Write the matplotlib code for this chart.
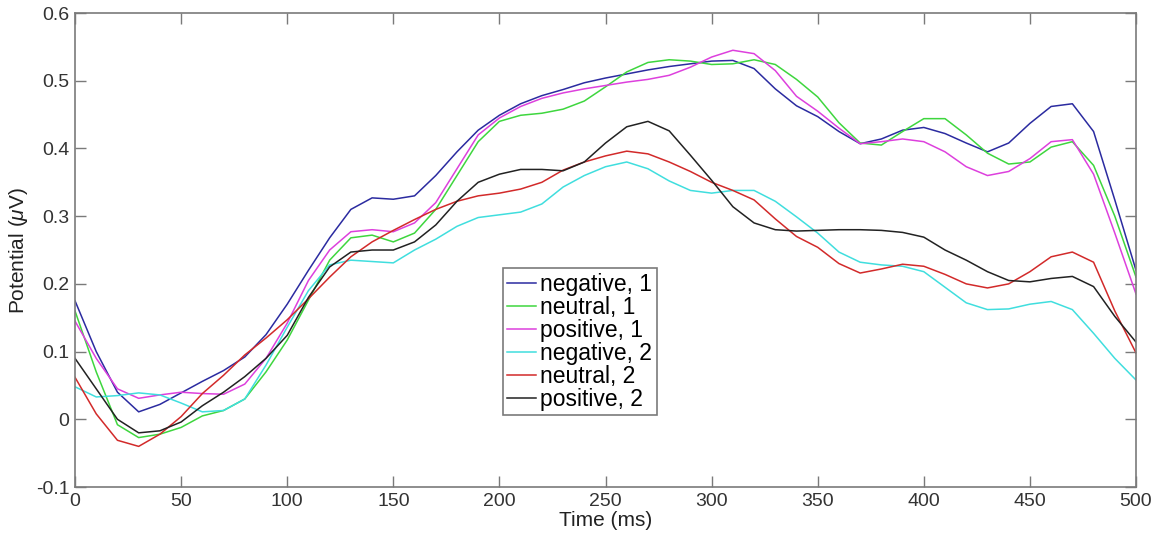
import numpy as np
import matplotlib
matplotlib.use("Agg")
import matplotlib.pyplot as plt

# time axis (ms), values read every 10 ms
t = np.arange(0, 501, 10)

neg1 = [0.175, 0.10, 0.04, 0.011, 0.022, 0.039, 0.056, 0.072, 0.092, 0.125,
        0.17, 0.22, 0.268, 0.31, 0.327, 0.325, 0.33, 0.36, 0.395, 0.427,
        0.449, 0.466, 0.478, 0.487, 0.497, 0.504, 0.51, 0.516, 0.521, 0.525,
        0.529, 0.53, 0.518, 0.488, 0.463, 0.447, 0.425, 0.407, 0.414, 0.427,
        0.431, 0.422, 0.408, 0.395, 0.408, 0.437, 0.462, 0.466, 0.425, 0.324,
        0.22]
neu1 = [0.16, 0.07, -0.008, -0.027, -0.022, -0.012, 0.005, 0.013, 0.03, 0.07,
        0.117, 0.176, 0.235, 0.268, 0.272, 0.262, 0.275, 0.31, 0.36, 0.41,
        0.44, 0.449, 0.452, 0.458, 0.47, 0.491, 0.513, 0.527, 0.531, 0.529,
        0.524, 0.525, 0.531, 0.524, 0.502, 0.476, 0.438, 0.408, 0.405, 0.425,
        0.444, 0.444, 0.42, 0.393, 0.377, 0.38, 0.402, 0.41, 0.375, 0.30,
        0.21]
pos1 = [0.145, 0.09, 0.045, 0.031, 0.036, 0.04, 0.038, 0.037, 0.052, 0.09,
        0.142, 0.205, 0.25, 0.277, 0.28, 0.277, 0.29, 0.32, 0.37, 0.42,
        0.445, 0.462, 0.474, 0.482, 0.488, 0.493, 0.498, 0.502, 0.508, 0.52,
        0.535, 0.545, 0.54, 0.515, 0.477, 0.455, 0.43, 0.407, 0.41, 0.414,
        0.41, 0.395, 0.373, 0.36, 0.366, 0.385, 0.41, 0.413, 0.362, 0.275,
        0.185]
neg2 = [0.048, 0.033, 0.035, 0.039, 0.036, 0.024, 0.011, 0.013, 0.03, 0.08,
        0.136, 0.19, 0.228, 0.235, 0.233, 0.231, 0.25, 0.266, 0.285, 0.298,
        0.302, 0.306, 0.318, 0.343, 0.36, 0.373, 0.38, 0.37, 0.352, 0.338,
        0.334, 0.338, 0.338, 0.322, 0.299, 0.275, 0.247, 0.232, 0.228, 0.226,
        0.218, 0.195, 0.172, 0.162, 0.163, 0.17, 0.174, 0.162, 0.127, 0.09,
        0.058]
neu2 = [0.062, 0.008, -0.031, -0.04, -0.022, 0.004, 0.038, 0.065, 0.095, 0.12,
        0.147, 0.178, 0.21, 0.24, 0.262, 0.279, 0.295, 0.31, 0.322, 0.33,
        0.334, 0.34, 0.35, 0.368, 0.38, 0.389, 0.396, 0.392, 0.38, 0.366,
        0.35, 0.338, 0.324, 0.296, 0.27, 0.254, 0.23, 0.216, 0.222, 0.229,
        0.226, 0.214, 0.2, 0.194, 0.2, 0.218, 0.24, 0.247, 0.232, 0.16,
        0.098]
pos2 = [0.09, 0.045, 0.0, -0.02, -0.017, -0.004, 0.02, 0.04, 0.063, 0.09,
        0.124, 0.18, 0.225, 0.247, 0.25, 0.25, 0.262, 0.287, 0.322, 0.35,
        0.362, 0.369, 0.369, 0.367, 0.38, 0.408, 0.432, 0.44, 0.426, 0.39,
        0.353, 0.314, 0.29, 0.28, 0.278, 0.279, 0.28, 0.28, 0.279, 0.276,
        0.269, 0.25, 0.235, 0.218, 0.205, 0.203, 0.208, 0.211, 0.196, 0.152,
        0.114]

series = [neg1, neu1, pos1, neg2, neu2, pos2]
labels = ["negative, 1", "neutral, 1", "positive, 1",
          "negative, 2", "neutral, 2", "positive, 2"]
colors = ["#2b2ba0", "#3ed63e", "#dd40dd", "#40dede", "#d22a2a", "#222222"]

xticks = list(range(0, 501, 50))
yticks = [-0.1, 0, 0.1, 0.2, 0.3, 0.4, 0.5, 0.6]
yticklabels = ["-0.1", "0", "0.1", "0.2", "0.3", "0.4", "0.5", "0.6"]

plt.rcParams["font.family"] = ["Liberation Sans", "DejaVu Sans"]
plt.rcParams["mathtext.fontset"] = "custom"
plt.rcParams["mathtext.it"] = "Liberation Sans:italic"
plt.rcParams["mathtext.rm"] = "Liberation Sans"

fig = plt.figure(figsize=(11.63, 5.36), dpi=100)
ax = fig.add_axes([0.0645, 0.0914, 0.9123, 0.8843])

for y, lab, c in zip(series, labels, colors):
    ax.plot(t, y, color=c, lw=1.1, label=lab, solid_joinstyle="round")

ax.set_xlim(0, 500)
ax.set_ylim(-0.1, 0.6)
ax.set_xticks(xticks)
ax.set_yticks(yticks)
ax.set_yticklabels(yticklabels)

gray = "#7a7a7a"
for s in ax.spines.values():
    s.set_color(gray)
    s.set_linewidth(1.2)
ax.tick_params(direction="in", top=True, right=True, length=8, width=1,
               color=gray, labelsize=14, labelcolor="#333333", pad=4)

ax.set_xlabel("Time (ms)", fontsize=15, color="#222222", labelpad=1)
ax.set_ylabel(r"Potential ($\mu$V)", fontsize=15, color="#222222", labelpad=4)

leg = ax.legend(loc="upper left", bbox_to_anchor=(0.403, 0.462),
                borderaxespad=0, fontsize=16.5, handlelength=1.25,
                handletextpad=0.2, labelspacing=0.0, borderpad=0.2,
                fancybox=False, framealpha=1)
leg.get_frame().set_edgecolor(gray)
leg.get_frame().set_linewidth(1.2)

fig.savefig("out.png", dpi=100)
